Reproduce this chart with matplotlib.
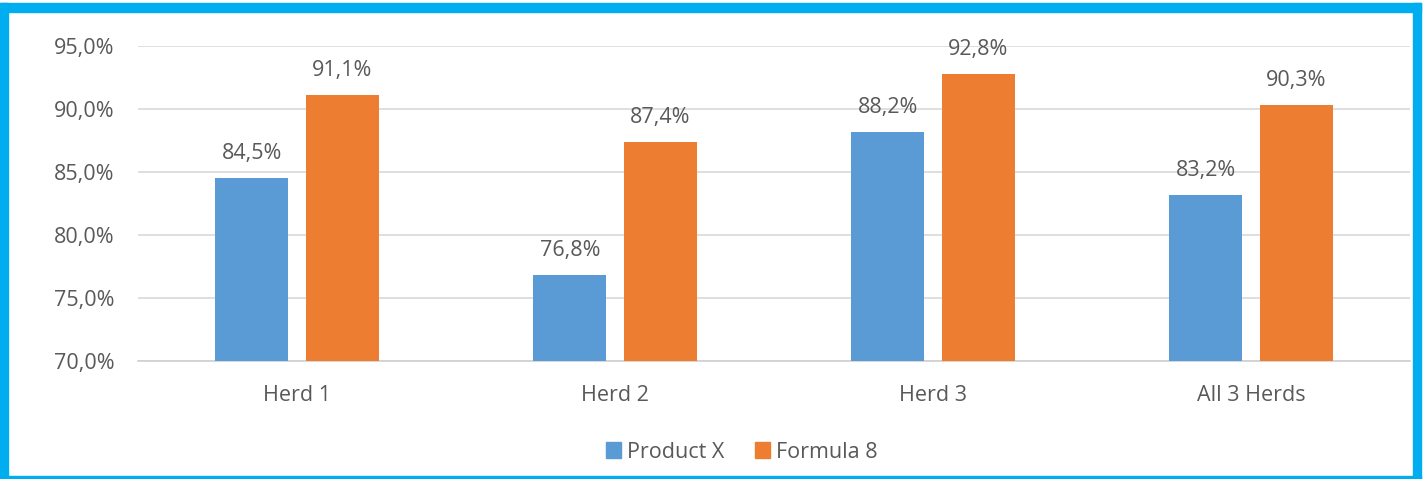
import matplotlib
matplotlib.use("Agg")
import matplotlib.pyplot as plt
from matplotlib.patches import Rectangle
import numpy as np

categories = ["Herd 1", "Herd 2", "Herd 3", "All 3 Herds"]
product_x = [84.5, 76.8, 88.2, 83.2]
formula_8 = [91.1, 87.4, 92.8, 90.3]
series_names = ["Product X", "Formula 8"]
yticks = [70, 75, 80, 85, 90, 95]

W, H = 1427, 479
plt.rcParams['font.family'] = ['Open Sans', 'DejaVu Sans']
fig = plt.figure(figsize=(W / 100, H / 100), dpi=100)
fig.patch.set_facecolor("white")

def px(x0, y0, x1, y1):
    return [x0 / W, 1 - y1 / H, (x1 - x0) / W, (y1 - y0) / H]

ax = fig.add_axes(px(138, 46, 1410, 361))
x = np.arange(len(categories))
bw = 0.23
off = 0.142
blue = "#5B9BD5"
orange = "#ED7D31"
txt = "#595959"
fs = 15.5

b1 = ax.bar(x - off, product_x, bw, color=blue, zorder=3)
b2 = ax.bar(x + off, formula_8, bw, color=orange, zorder=3)
for bars, vals in ((b1, product_x), (b2, formula_8)):
    for r, v in zip(bars, vals):
        ax.annotate(f"{v:.1f}%".replace(".", ","), (r.get_x() + r.get_width() / 2, v),
                    xytext=(0, 10), textcoords="offset points", ha="center", va="bottom",
                    fontsize=fs, color=txt)

ax.set_xlim(-0.5, len(categories) - 0.5)
ax.set_ylim(70, 95)
ax.set_yticks(yticks)
ax.set_yticklabels([f"{t:.1f}%".replace(".", ",") for t in yticks], fontsize=fs, color=txt)
ax.set_xticks(x)
ax.set_xticklabels(categories, fontsize=fs, color=txt)
ax.tick_params(axis="both", length=0)
ax.tick_params(axis="y", pad=17)
ax.tick_params(axis="x", pad=17)
ax.grid(axis="y", color="#D9D9D9", linewidth=1.2, zorder=0)
for s in ("top", "right", "left"):
    ax.spines[s].set_visible(False)
ax.spines["bottom"].set_color("#D0D0D0")
ax.spines["bottom"].set_linewidth(1.2)

handles = [Rectangle((0, 0), 1, 1, color=blue), Rectangle((0, 0), 1, 1, color=orange)]
fig.legend(handles, series_names, loc="center", bbox_to_anchor=(742 / W, 1 - 452 / H),
           ncol=2, frameon=False, fontsize=fs, labelcolor=txt,
           handlelength=0.7, handleheight=0.7, handletextpad=0.3, columnspacing=1.4)

cyan = "#00AEEF"
for (x0, y0, x1, y1) in [(0, 3, 8, 479), (0, 3, 1421, 12), (1413, 3, 1421, 479), (0, 476, 1421, 478)]:
    fig.patches.append(Rectangle((x0 / W, 1 - y1 / H), (x1 - x0) / W, (y1 - y0) / H,
                                 transform=fig.transFigure, color=cyan, zorder=10))

fig.savefig("out.png", dpi=100)
